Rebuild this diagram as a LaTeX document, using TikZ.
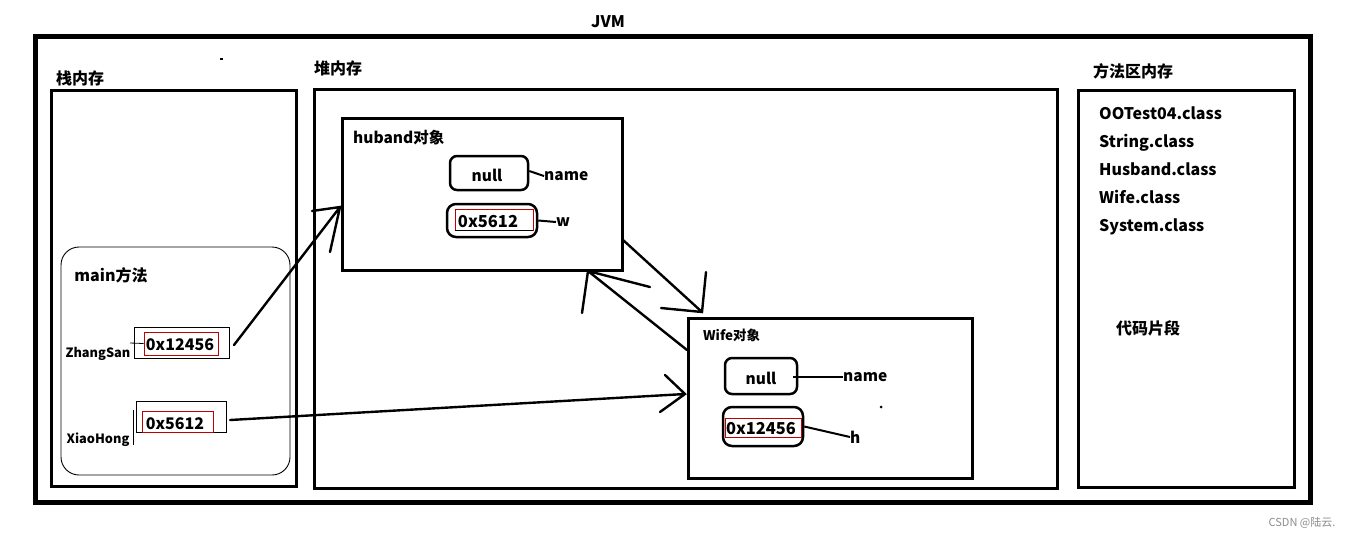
\documentclass[tikz,border=0pt]{standalone}
\usepackage{fontspec}
\setmainfont{Noto Sans CJK SC}
\begin{document}
\begin{tikzpicture}[x=1pt,y=-1pt,
  txt/.style={inner sep=0pt,font=\bfseries\fontsize{15.5}{17}\selectfont},
  cjklbl/.style={inner sep=0pt,font=\fontsize{16}{18}\selectfont\bfseries},
  cls/.style={inner sep=0pt,anchor=west,text height=12pt,text depth=4pt,font=\bfseries\fontsize{16}{18}\selectfont},
  area/.style={draw,line width=3pt,inner sep=0pt},
  obj/.style={draw,line width=2.5pt,inner sep=0pt,rounded corners=7pt},
  val/.style={draw,line width=2.5pt,inner sep=0pt,rounded corners=9pt},
  thinbox/.style={draw,line width=0.9pt,inner sep=0pt},
  redbox/.style={draw=red!75!black,line width=0.8pt,inner sep=0pt},
  wire/.style={line width=2pt},
  arr/.style={line width=2.4pt,line cap=round}]
\useasboundingbox (0,0) rectangle (1356,539);
\fill[white] (0,0) rectangle (1356,539);

% outer JVM
\node[txt,font=\bfseries\fontsize{16}{18}\selectfont] (jvmlbl) at (608,22) {JVM};
\node[draw,line width=5pt,inner sep=0pt,minimum width=1275pt,minimum height=466pt] (jvm) at (672.5,269) {};
\node[fill,inner sep=0pt,minimum width=3pt,minimum height=2pt] (dot1) at (221,59) {};

% stack
\node[cjklbl] (stacklbl) at (80,78) {栈内存};
\node[area,minimum width=245pt,minimum height=396pt] (stack) at (173.5,288) {};
\node[draw,line width=0.9pt,rounded corners=18pt,inner sep=0pt,minimum width=229pt,minimum height=228pt] (main) at (175.5,361) {};
\node[txt,font=\bfseries\fontsize{16}{18}\selectfont] (mainlbl) at (111,275) {main方法};

\node[thinbox,minimum width=95pt,minimum height=31pt] (zsbox) at (181.5,342.5) {};
\node[redbox,minimum width=74pt,minimum height=23pt] (zsred) at (181,343.5) {};
\node[txt,font=\bfseries\fontsize{16}{18}\selectfont] (zsval) at (180,345) {0x12456};
\node[txt,font=\bfseries\fontsize{12.8}{14}\selectfont] (zslbl) at (98,354) {ZhangSan};
\coordinate (zsw) at (130,343);
\draw[line width=0.8pt] (zsw) -- (zsred.west);

\node[thinbox,minimum width=90pt,minimum height=31pt] (xhbox) at (181,416.5) {};
\node[redbox,minimum width=71pt,minimum height=21pt] (xhred) at (177.5,421.5) {};
\node[txt,font=\bfseries\fontsize{16}{18}\selectfont] (xhval) at (175,424) {0x5612};
\node[txt,font=\bfseries\fontsize{12.8}{14}\selectfont] (xhlbl) at (98,440) {XiaoHong};
\coordinate (xha) at (133,410);
\coordinate (xhb) at (133,445);
\draw[line width=0.8pt] (xha) -- (xhb);

% heap
\node[cjklbl] (heaplbl) at (338,68) {堆内存};
\node[area,minimum width=743pt,minimum height=399pt] (heap) at (685.5,288.5) {};

% husband object
\node[area,minimum width=280pt,minimum height=152pt] (hus) at (482,194) {};
\node[txt,anchor=west] (huslbl) at (353,138) {huband对象};
\node[obj,minimum width=78pt,minimum height=34pt] (hnull) at (489,173) {};
\node[txt] (hnulltxt) at (487,175) {null};
\node[txt,anchor=west] (hname) at (544,176) {name};
\draw[wire] (hnull.east) ++(0,-2) coordinate (hn1) -- (hname.west);
\node[val,minimum width=90pt,minimum height=33pt] (hw) at (492,220.5) {};
\node[redbox,minimum width=78pt,minimum height=21pt] (hwred) at (494,219.5) {};
\node[txt,font=\bfseries\fontsize{16.5}{18}\selectfont] (hwtxt) at (488,222) {0x5612};
\draw[line width=1pt] (hwred.south west) -- (hwred.south east);
\node[txt,anchor=west] (hwlbl) at (556,222) {w};
\draw[wire] (hw.east) -- (hwlbl.west);

% wife object
\node[area,minimum width=284pt,minimum height=160pt] (wife) at (830,398) {};
\node[txt,anchor=west,font=\bfseries\fontsize{13.4}{15}\selectfont] (wifelbl) at (703,335) {Wife对象};
\node[obj,minimum width=72pt,minimum height=36pt] (wnull) at (761,376) {};
\node[txt] (wnulltxt) at (761,378) {null};
\node[txt,anchor=west] (wname) at (843,377) {name};
\coordinate (wn0) at (793,377);
\draw[wire] (wn0) -- (wname.west);
\node[val,minimum width=80pt,minimum height=39pt] (wh) at (763,426.5) {};
\node[redbox,minimum width=76pt,minimum height=19pt] (whred) at (763,427.5) {};
\node[txt,font=\bfseries\fontsize{16.4}{18}\selectfont] (whtxt) at (761,429) {0x12456};
\node[txt,anchor=west] (whlbl) at (850,437) {h};
\draw[wire] (wh.east) -- (whlbl.west);
\node[fill,circle,inner sep=0pt,minimum size=3pt] (dot2) at (881,407) {};

% method area
\node[cjklbl] (methlbl) at (1133,71) {方法区内存};
\node[area,minimum width=216pt,minimum height=397pt] (meth) at (1186,288.5) {};
\node[cls] (c1) at (1099,115) {OOTest04.class};
\node[cls] (c2) at (1099,143) {String.class};
\node[cls] (c3) at (1099,171) {Husband.class};
\node[cls] (c4) at (1099,199) {Wife.class};
\node[cls] (c5) at (1099,227) {System.class};
\node[cjklbl] (code) at (1148,328) {代码片段};

% arrows (hand drawn)
\coordinate (a1s) at (234,345);
\coordinate (a1t) at (340,207);
\coordinate (a1b1) at (312,211);
\coordinate (a1b2) at (330,252);
\draw[arr] (a1s) -- (a1t) (a1b1) -- (a1t) -- (a1b2);

\coordinate (a2s) at (230,420);
\coordinate (a2t) at (685,394);
\coordinate (a2b1) at (665,375);
\coordinate (a2b2) at (660,412);
\draw[arr] (a2s) -- (a2t) (a2b1) -- (a2t) -- (a2b2);

\coordinate (a3s) at (623,240);
\coordinate (a3t) at (702,312);
\coordinate (a3b1) at (706,272);
\coordinate (a3b2) at (661,308);
\draw[arr] (a3s) -- (a3t) (a3b1) -- (a3t) -- (a3b2);

\coordinate (a4s) at (687,350);
\coordinate (a4t) at (588,271);
\coordinate (a4b1) at (582,313);
\coordinate (a4b2) at (650,287);
\draw[arr] (a4s) -- (a4t) (a4b1) -- (a4t) -- (a4b2);

% watermark
\node[inner sep=0pt,text=black!45,font=\fontsize{11}{13}\selectfont] (wm) at (1302,523) {CSDN @陆云.};
\end{tikzpicture}
\end{document}
